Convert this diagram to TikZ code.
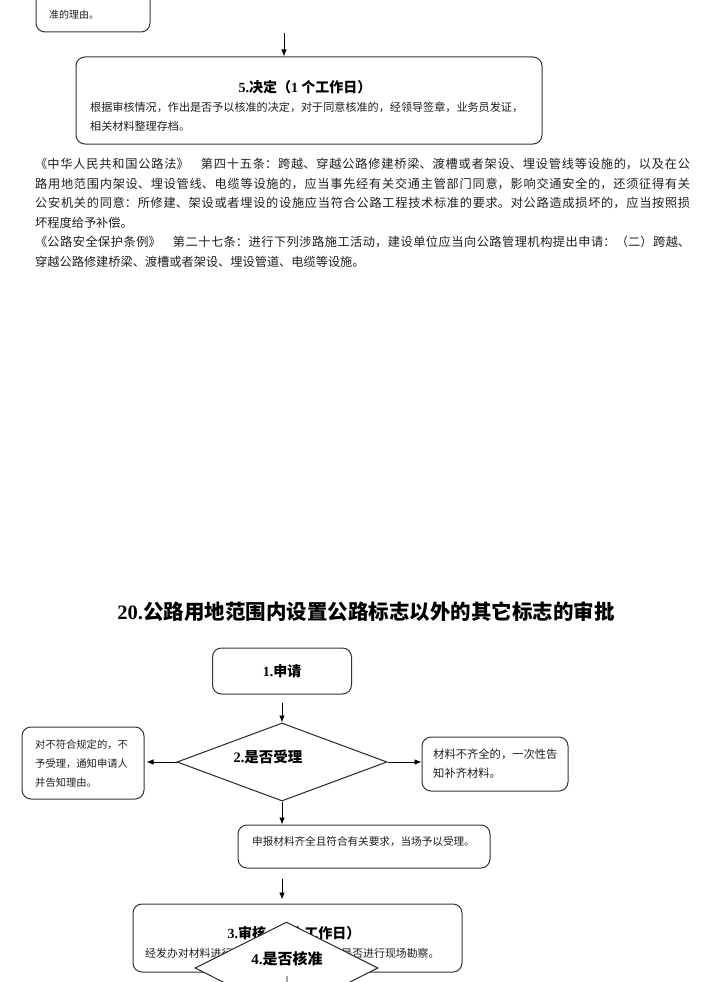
\documentclass[tikz,border=0pt]{standalone}
\usepackage{fontspec}
\setmainfont{Noto Sans CJK SC}
\newfontfamily\lat{Liberation Serif}
\usetikzlibrary{arrows.meta, shapes.geometric, positioning}
\XeTeXlinebreaklocale "zh"
\XeTeXlinebreakskip=0pt plus 3pt
\setlength{\parindent}{0pt}
\newcommand{\dg}[1]{{\lat\bfseries #1}}
\newcommand{\sz}[2]{\fontsize{#1}{#2}\selectfont}

\tikzset{
  stepbox/.style={draw=black!80, line width=1pt, rounded corners=9pt, inner sep=0pt, fill=white},
  choice/.style={draw=black!85, line width=1pt, diamond, inner sep=0pt, fill=white},
  flow/.style={-{Latex[length=7pt,width=5.5pt]}, line width=0.8pt},
  head/.style={inner sep=0pt, font=\bfseries\sz{14}{16}},
  note/.style={inner sep=0pt, align=left, text=black!88},
}

\begin{document}
\begin{tikzpicture}[x=1pt, y=-1pt]
\useasboundingbox (0,0) rectangle (722,982);
\clip (0,0) rectangle (722,982);

% end of the previous chart
\node[stepbox, minimum width=114pt, minimum height=80pt] (prev) at (93,-8) {};
\node[note, anchor=west, font=\sz{10}{12}] (prevt) at (49,15) {准的理由。};

\coordinate (top) at (284,33);
\node[stepbox, minimum width=466pt, minimum height=87pt] (decide) at (309,100.5) {};
\node[head] (decidet) at (305,87) {\dg{5.}决定（\dg{1} 个工作日）};
\node[note, anchor=west, font=\sz{11.1}{19}] (decideb) at (90,116.5)
  {根据审核情况，作出是否予以核准的决定，对于同意核准的，经领导签章，业务员发证，\\相关材料整理存档。};
\draw[flow] (top) -- (top |- decide.north);

% legal basis
\node[anchor=north west, text width=655pt, align=justify, inner sep=0pt, text=black!88,
      font=\sz{12.2}{19.6}] (law) at (35,158) {%
《中华人民共和国公路法》\hspace{1em}第四十五条：跨越、穿越公路修建桥梁、渡槽或者架设、埋设管线等设施的，以及在公\linebreak
路用地范围内架设、埋设管线、电缆等设施的，应当事先经有关交通主管部门同意，影响交通安全的，还须征得有关\linebreak
公安机关的同意：所修建、架设或者埋设的设施应当符合公路工程技术标准的要求。对公路造成损坏的，应当按照损\linebreak
坏程度给予补偿。\par
《公路安全保护条例》\hspace{1em}第二十七条：进行下列涉路施工活动，建设单位应当向公路管理机构提出申请：（二）跨越、\linebreak
穿越公路修建桥梁、渡槽或者架设、埋设管道、电缆等设施。};

% chart 20
\node[font=\bfseries\sz{20.5}{24}, inner sep=0pt] (title) at (366,612)
  {\dg{20.}公路用地范围内设置公路标志以外的其它标志的审批};

\node[stepbox, head, minimum width=139pt, minimum height=46pt] (apply) at (282,671) {\dg{1.}申请};

\node[choice, minimum width=210pt, minimum height=78pt] (accept) at (282,762) {};
\node[head, font=\bfseries\sz{14.5}{16}] (acceptt) at (268,757) {\dg{2.}是否受理};

\node[stepbox, minimum width=122pt, minimum height=72pt] (refuse) at (83,763) {};
\node[note, anchor=west, font=\sz{10.3}{19}] (refuset) at (35,764)
  {对不符合规定的，不\\予受理，通知申请人\\并告知理由。};

\node[stepbox, minimum width=146pt, minimum height=54pt] (supply) at (495,764) {};
\node[note, anchor=west, font=\sz{11.3}{19}] (supplyt) at (433,763.5)
  {材料不齐全的，一次性告\\知补齐材料。};

\node[stepbox, minimum width=252pt, minimum height=43pt] (take) at (364,846.5) {};
\node[note, anchor=west, font=\sz{10.6}{12}] (taket) at (252,842)
  {申报材料齐全且符合有关要求，当场予以受理。};

\node[stepbox, minimum width=329pt, minimum height=68pt] (review) at (297.5,938) {};
\node[head] (reviewt) at (294,933) {\dg{3.}审核（\dg{1} 个工作日）};
\node[note, anchor=west, font=\sz{10.9}{12}] (reviewb) at (145,953)
  {经发办对材料进行审查，并根据情况确定是否进行现场勘察。};

\node[choice, minimum width=183pt, minimum height=92pt] (approve) at (286.5,968) {};
\node[head, font=\bfseries\sz{15}{16}] (approvet) at (287,959) {\dg{4.}是否核准};
\coordinate (approveout) at (287,976);

\draw[flow, shorten <=8pt] (apply) -- (accept);
\draw[flow, shorten >=2pt] (accept.west) -- (refuse.east |- accept.west);
\draw[flow] (accept.east) -- (supply.west |- accept.east);
\draw[flow] (accept.south) -- (accept.south |- take.north);
\draw[flow, shorten <=10pt, shorten >=4pt] (accept.south |- take.south) -- (accept.south |- review.north);
\draw[line width=0.8pt] (approveout) -- (approve.south);
\end{tikzpicture}
\end{document}
